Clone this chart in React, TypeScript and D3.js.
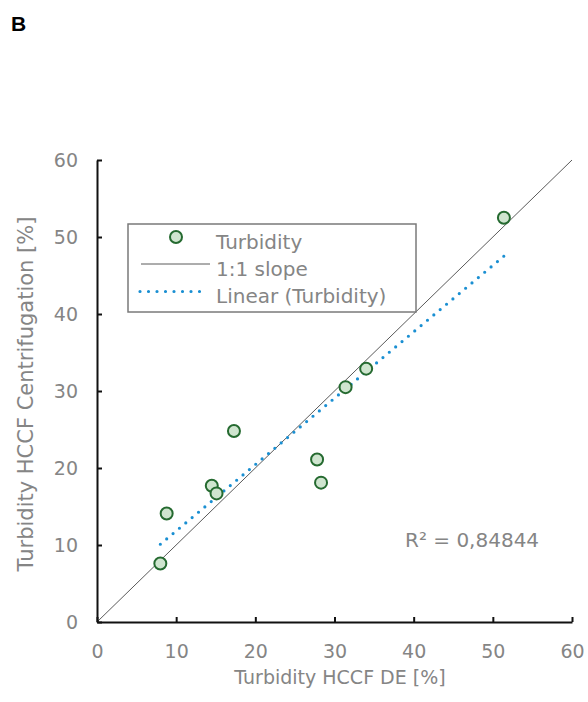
import React, { useEffect, useRef } from "react";
import * as d3 from "d3";

// turbidity HCCF, depth filtration (x) vs centrifugation (y), in %
const deValues = [8.0, 8.8, 14.5, 15.1, 17.3, 27.8, 28.3, 31.4, 34.0, 51.4];
const centrifugationValues = [7.6, 14.1, 17.7, 16.7, 24.8, 21.1, 18.1, 30.5, 32.9, 52.5];
const axisTicks = [0, 10, 20, 30, 40, 50, 60];
const legendLabels = ["Turbidity", "1:1 slope", "Linear (Turbidity)"];
const rSquaredLabel = "R² = 0,84844";

const FONT = "'DejaVu Sans', sans-serif";
const GREY = "#858585";

const App = () => {
  const ref = useRef<SVGSVGElement>(null);

  useEffect(() => {
    document.body.style.margin = "0";
    const svg = d3.select(ref.current);
    svg.selectAll("*").remove();

    const x = d3.scaleLinear().domain([0, 60]).range([97, 572]);
    const y = d3.scaleLinear().domain([0, 60]).range([622, 160]);

    const points = deValues.map((d, i) => ({ x: d, y: centrifugationValues[i] }));

    // least squares trend line, like Excel's linear trendline
    const mx = d3.mean(points, (d) => d.x)!;
    const my = d3.mean(points, (d) => d.y)!;
    const slope =
      d3.sum(points, (d) => (d.x - mx) * (d.y - my)) /
      d3.sum(points, (d) => (d.x - mx) ** 2);
    const intercept = my - slope * mx;
    const [x0, x1] = d3.extent(deValues) as [number, number];

    svg
      .append("text")
      .text("B")
      .attr("x", 11)
      .attr("y", 31)
      .attr("font-family", "'Liberation Sans', Arial, sans-serif")
      .attr("font-weight", "bold")
      .attr("font-size", 21)
      .attr("fill", "#000");

    // 1:1 line
    svg
      .append("line")
      .attr("x1", x(0))
      .attr("y1", y(0))
      .attr("x2", x(60))
      .attr("y2", y(60))
      .attr("stroke", "#5a5a5a")
      .attr("stroke-width", 1);

    // trend line
    svg
      .append("line")
      .attr("x1", x(x0))
      .attr("y1", y(slope * x0 + intercept))
      .attr("x2", x(x1))
      .attr("y2", y(slope * x1 + intercept))
      .attr("stroke", "#1a8fd2")
      .attr("stroke-width", 3.2)
      .attr("stroke-linecap", "round")
      .attr("stroke-dasharray", "0 8.3");

    svg
      .append("g")
      .selectAll("circle")
      .data(points)
      .join("circle")
      .attr("cx", (d) => x(d.x))
      .attr("cy", (d) => y(d.y))
      .attr("r", 6)
      .attr("fill", "#cfe5cf")
      .attr("stroke", "#256a30")
      .attr("stroke-width", 2);

    const xAxis = d3
      .axisBottom(x)
      .tickValues(axisTicks)
      .tickSizeInner(-5)
      .tickSizeOuter(0)
      .tickPadding(23);
    const yAxis = d3
      .axisLeft(y)
      .tickValues(axisTicks)
      .tickSizeInner(-5)
      .tickSizeOuter(0)
      .tickPadding(19);

    const gx = svg.append("g").attr("transform", `translate(0, ${y(0)})`).call(xAxis);
    const gy = svg.append("g").attr("transform", `translate(${x(0)}, 0)`).call(yAxis);

    [gx, gy].forEach((g) => {
      g.selectAll("path, line").attr("stroke", "#111").attr("stroke-width", 2);
      g.selectAll("text")
        .attr("fill", GREY)
        .attr("font-family", FONT)
        .attr("font-size", 19);
      g.attr("font-family", null).attr("font-size", null);
    });

    svg
      .append("text")
      .text("Turbidity HCCF DE [%]")
      .attr("x", 340)
      .attr("y", 684)
      .attr("text-anchor", "middle")
      .attr("font-family", FONT)
      .attr("font-size", 19)
      .attr("fill", GREY);

    svg
      .append("text")
      .text("Turbidity HCCF Centrifugation [%]")
      .attr("transform", "translate(33, 394) rotate(-90)")
      .attr("text-anchor", "middle")
      .attr("font-family", FONT)
      .attr("font-size", 21)
      .attr("fill", GREY);

    svg
      .append("text")
      .text(rSquaredLabel)
      .attr("x", 405)
      .attr("y", 547)
      .attr("font-family", FONT)
      .attr("font-size", 20)
      .attr("fill", GREY);

    // legend
    const legend = svg.append("g");
    legend
      .append("rect")
      .attr("x", 128)
      .attr("y", 224)
      .attr("width", 288)
      .attr("height", 88)
      .attr("fill", "#fff")
      .attr("stroke", "#7a7a7a")
      .attr("stroke-width", 1.5);
    legend
      .append("circle")
      .attr("cx", 176)
      .attr("cy", 237)
      .attr("r", 6)
      .attr("fill", "#cfe5cf")
      .attr("stroke", "#256a30")
      .attr("stroke-width", 2);
    legend
      .append("line")
      .attr("x1", 141)
      .attr("x2", 210)
      .attr("y1", 264)
      .attr("y2", 264)
      .attr("stroke", "#5a5a5a")
      .attr("stroke-width", 1);
    legend
      .append("line")
      .attr("x1", 140)
      .attr("x2", 208)
      .attr("y1", 291.5)
      .attr("y2", 291.5)
      .attr("stroke", "#1a8fd2")
      .attr("stroke-width", 3.2)
      .attr("stroke-linecap", "round")
      .attr("stroke-dasharray", "0 8.5");
    legend
      .selectAll("text")
      .data(legendLabels)
      .join("text")
      .text((d) => d)
      .attr("x", 216)
      .attr("y", (d, i) => 249 + i * 27)
      .attr("font-family", FONT)
      .attr("font-size", 20)
      .attr("fill", GREY);
  }, []);

  return <svg ref={ref} width={588} height={702} style={{ display: "block", background: "#fff" }}></svg>;
};

export default App;
